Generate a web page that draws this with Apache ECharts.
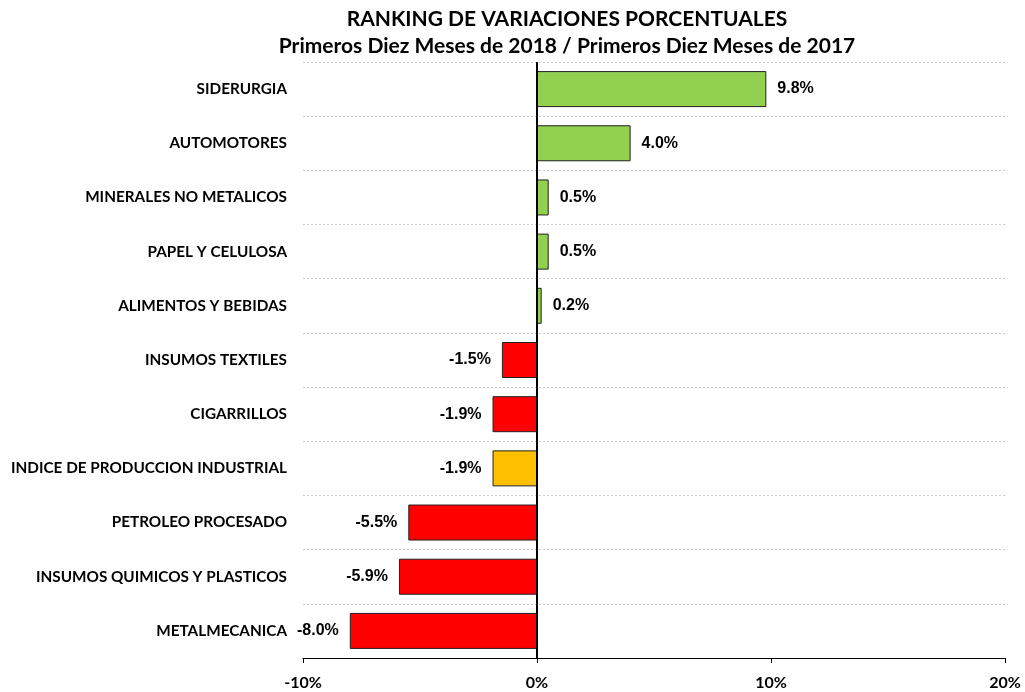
<!DOCTYPE html>
<html>
<head>
<meta charset="utf-8">
<script src="https://cdn.jsdelivr.net/npm/echarts@6/dist/echarts.min.js"></script>
<style>
  html, body { margin: 0; padding: 0; background: #fff; }
  #chart { width: 1025px; height: 692px; }
</style>
</head>
<body>
<div id="chart"></div>
<script>
var categories = ['SIDERURGIA', 'AUTOMOTORES', 'MINERALES NO METALICOS', 'PAPEL Y CELULOSA',
    'ALIMENTOS Y BEBIDAS', 'INSUMOS TEXTILES', 'CIGARRILLOS', 'INDICE DE PRODUCCION INDUSTRIAL',
    'PETROLEO PROCESADO', 'INSUMOS QUIMICOS Y PLASTICOS', 'METALMECANICA'];
var values = [9.8, 4.0, 0.5, 0.5, 0.2, -1.5, -1.9, -1.9, -5.5, -5.9, -8.0];
var totalLabel = 'INDICE DE PRODUCCION INDUSTRIAL';
var xTicks = [-10, 0, 10, 20];

var chart = echarts.init(document.getElementById('chart'));

var barData = [];
for (var i = 0; i < values.length; i++) {
    var v = values[i];
    var color = v >= 0 ? '#92D050' : '#FF0000';
    if (categories[i] === totalLabel) color = '#FFC000';
    barData.push({
        value: v,
        itemStyle: { color: color },
        label: { position: v >= 0 ? 'right' : 'left' }
    });
}

var option = {
    title: {
        text: 'RANKING DE VARIACIONES PORCENTUALES\nPrimeros Diez Meses de 2018 / Primeros Diez Meses de 2017',
        left: 562,
        top: 1,
        textAlign: 'center',
        textStyle: {
            fontFamily: 'Lato',
            fontWeight: 'bold',
            fontSize: 21,
            lineHeight: 27,
            color: '#000'
        }
    },
    grid: {
        left: 303,
        right: 20,
        top: 62,
        bottom: 34
    },
    xAxis: {
        type: 'value',
        min: xTicks[0],
        max: xTicks[xTicks.length - 1],
        interval: 10,
        axisLine: { show: true, lineStyle: { color: '#000', width: 1 } },
        axisTick: { show: true, length: 5, lineStyle: { color: '#000' } },
        splitLine: { show: false },
        axisLabel: {
            margin: 17,
            formatter: '{value}%',
            fontFamily: 'Lato',
            fontWeight: 'bold',
            fontSize: 16,
            color: '#000'
        }
    },
    yAxis: {
        type: 'category',
        inverse: true,
        data: categories,
        axisLine: { show: false },
        axisTick: { show: false },
        splitLine: {
            show: true,
            lineStyle: { color: '#c8c8c8', type: [2, 2], width: 1 }
        },
        axisLabel: {
            margin: 16,
            fontFamily: 'Lato',
            fontWeight: 'bold',
            fontSize: 15.3,
            color: '#000'
        }
    },
    series: [{
        type: 'bar',
        data: barData,
        barWidth: 36,
        itemStyle: { borderColor: '#222', borderWidth: 1 },
        label: {
            show: true,
            distance: 11,
            fontFamily: 'Liberation Sans',
            fontWeight: 'bold',
            fontSize: 16,
            color: '#000',
            formatter: function (p) { return p.value.toFixed(1) + '%'; }
        },
        markLine: {
            silent: true,
            symbol: 'none',
            label: { show: false },
            lineStyle: { color: '#000', width: 2, type: 'solid' },
            data: [{ xAxis: 0 }]
        },
        animation: false
    }]
};
chart.setOption(option);
</script>
</body>
</html>
